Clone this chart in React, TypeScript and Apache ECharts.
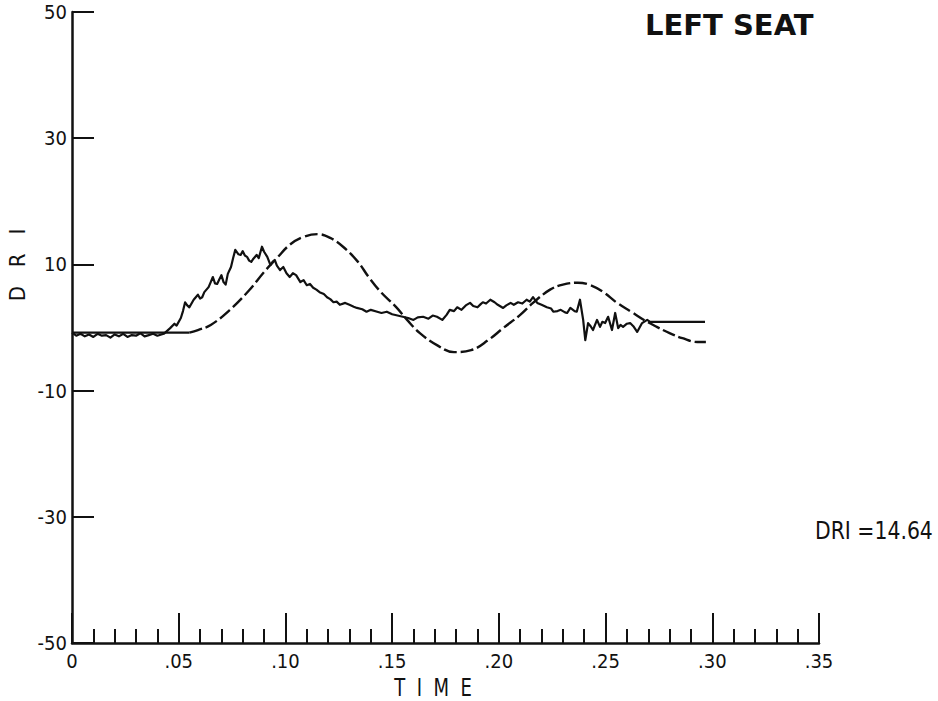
import React, { useEffect, useRef } from "react";
import * as echarts from "echarts";

// ---- data ----
const xTickLabels = ["0", ".05", ".10", ".15", ".20", ".25", ".30", ".35"];
const yTickValues = [-50, -30, -10, 10, 30, 50];

// measured DRI response (solid, noisy)
const measuredT = [
  0, 0.002, 0.004, 0.006, 0.008, 0.01, 0.012, 0.014, 0.016, 0.018, 0.02, 0.022, 0.024, 0.026, 0.028, 0.03,
  0.032, 0.034, 0.036, 0.038, 0.04, 0.043,
  0.046, 0.048, 0.049, 0.051, 0.052, 0.053, 0.054, 0.055, 0.057, 0.059, 0.06, 0.061, 0.062, 0.064, 0.065,
  0.066, 0.067, 0.068, 0.069, 0.07, 0.071, 0.072, 0.073, 0.0745, 0.0755, 0.0765, 0.078, 0.079, 0.08, 0.081,
  0.082, 0.083, 0.084, 0.085, 0.0865, 0.0875, 0.089, 0.09, 0.0915, 0.093, 0.094, 0.095, 0.096, 0.0975,
  0.099, 0.1005, 0.102, 0.1035, 0.105, 0.107, 0.1085, 0.11, 0.1115, 0.113, 0.1145, 0.116, 0.118, 0.1195,
  0.121, 0.1225, 0.124, 0.1255, 0.128, 0.13, 0.132, 0.1335, 0.136, 0.138, 0.14, 0.143, 0.145, 0.1475,
  0.15, 0.1525, 0.155, 0.1575, 0.16, 0.162, 0.1645, 0.167, 0.169, 0.171, 0.1735, 0.1755, 0.177, 0.179,
  0.1805, 0.1825, 0.1845, 0.1865, 0.188, 0.19, 0.1915, 0.1925, 0.194, 0.196, 0.198, 0.1995, 0.202, 0.2035,
  0.2055, 0.207, 0.209, 0.211, 0.213, 0.2145, 0.216, 0.218, 0.22, 0.2225, 0.2245, 0.2255, 0.2275, 0.229,
  0.231, 0.232, 0.2335, 0.2355, 0.2365, 0.238, 0.2395, 0.2405, 0.2418, 0.243, 0.2441, 0.246, 0.2474,
  0.2485, 0.2498, 0.2512, 0.253, 0.2545, 0.2559, 0.257, 0.2582, 0.26, 0.2615, 0.263, 0.2648, 0.2671,
  0.2695, 0.2709, 0.2966,
];
const measuredV = [
  -0.8, -1.3, -1.0, -1.4, -1.1, -1.5, -1.0, -1.3, -1.2, -1.6, -1.1, -1.4, -1.0, -1.5, -1.2, -1.3,
  -0.9, -1.4, -1.2, -1.0, -1.3, -1.0,
  -0.1, 0.6, 0.3, 1.5, 2.6, 4.0, 3.5, 3.2, 4.4, 5.2, 4.6, 4.8, 5.6, 6.4, 7.2,
  8.0, 7.0, 6.9, 7.6, 8.3, 7.2, 6.8, 8.5, 9.6, 11.0, 12.3, 11.6, 11.5, 12.1, 11.4,
  11.2, 10.6, 10.4, 10.9, 11.5, 11.0, 12.8, 12.0, 11.2, 9.9, 10.4, 10.7, 9.8, 9.1,
  9.6, 8.6, 8.0, 8.6, 8.3, 7.2, 7.5, 6.7, 6.9, 6.3, 6.0, 5.6, 5.3, 4.8,
  4.5, 4.0, 4.1, 3.6, 3.9, 3.6, 3.3, 3.1, 2.9, 2.5, 2.8, 2.5, 2.3, 2.5,
  2.1, 1.9, 1.7, 1.5, 1.2, 1.6, 1.7, 1.4, 1.9, 1.7, 1.2, 2.0, 2.8, 2.6,
  3.2, 2.8, 3.5, 3.9, 3.4, 3.2, 3.7, 4.0, 3.8, 4.4, 4.0, 3.6, 3.1, 3.5,
  3.9, 3.6, 4.0, 3.8, 4.4, 4.1, 4.8, 3.9, 3.6, 3.2, 3.0, 2.5, 2.6, 2.8,
  2.4, 2.3, 3.1, 2.6, 2.5, 4.4, 1.2, -2.0, 0.7, 0.2, -0.4, 1.2, 0.1,
  0.9, 0.7, 1.7, -0.4, 2.3, -0.1, 0.4, 0.1, 0.6, 0.7, 0.2, -0.7, 0.7,
  1.2, 0.9, 0.9,
];

// model DRI response (dashed, smooth)
const modelT = [
  0, 0.055, 0.059, 0.065, 0.074, 0.083, 0.09, 0.096, 0.102, 0.108, 0.115, 0.121, 0.127, 0.134, 0.139,
  0.145, 0.152, 0.157, 0.163, 0.171, 0.179, 0.187, 0.195, 0.202, 0.21, 0.216, 0.224, 0.23, 0.237, 0.243,
  0.249, 0.255, 0.262, 0.268, 0.274, 0.28, 0.286, 0.293, 0.297,
];
const modelV = [
  -0.8, -0.8, -0.4, 0.4, 2.8, 5.9, 8.8, 11.0, 13.1, 14.3, 14.8, 14.2, 12.8, 10.4, 8.0,
  5.5, 3.2, 1.2, -0.9, -2.8, -3.9, -3.6, -2.0, -0.1, 2.0, 3.9, 6.0, 6.8, 7.1, 6.7,
  5.6, 4.0, 2.5, 1.2, 0.1, -0.9, -1.7, -2.3, -2.3,
];

const titleText = "LEFT SEAT";
const driText = "DRI =14.64";
const xName = "T  I  M  E";
const yName = "D   R   I";

const zip = (a: number[], b: number[]) => a.map((t, i) => [t, b[i]]);

const NARROW = "'Liberation Sans Narrow', 'DejaVu Sans Condensed', sans-serif";
const PLOT = "'DejaVu Sans', sans-serif";
const INK = "#111111";

export default function App() {
  const ref = useRef<HTMLDivElement | null>(null);

  useEffect(() => {
    if (!ref.current) return;
    const chart = echarts.init(ref.current, null, { renderer: "svg" });
    const measured = zip(measuredT, measuredV);
    const model = zip(modelT, modelV);
    chart.setOption({
      animation: false,
      backgroundColor: "#ffffff",
      grid: { left: 72, right: 119, top: 12, bottom: 58, containLabel: false },
      xAxis: {
        type: "value",
        min: 0,
        max: 0.35,
        interval: 0.05,
        axisLine: { show: true, onZero: false, lineStyle: { color: INK, width: 2.5 } },
        axisTick: { show: true, inside: true, length: 30, lineStyle: { color: INK, width: 2 } },
        minorTick: { show: true, splitNumber: 5, length: 14, lineStyle: { color: INK, width: 2 } },
        splitLine: { show: false },
        minorSplitLine: { show: false },
        axisLabel: {
          margin: 8,
          color: INK,
          fontSize: 20,
          fontFamily: NARROW,
          formatter: (v: number) => xTickLabels[Math.round(v / 0.05)] ?? "",
        },
      },
      yAxis: {
        type: "value",
        min: -50,
        max: 50,
        interval: 20,
        axisLine: { show: true, onZero: false, lineStyle: { color: INK, width: 2.5 } },
        axisTick: { show: true, inside: true, length: 22, lineStyle: { color: INK, width: 2 } },
        splitLine: { show: false },
        axisLabel: {
          margin: 5,
          color: INK,
          fontSize: 20,
          fontFamily: NARROW,
          formatter: (v: number) => (yTickValues.includes(Math.round(v)) ? String(Math.round(v)) : ""),
        },
      },
      graphic: [
        {
          type: "text",
          x: 645,
          y: 25,
          style: {
            text: titleText, fill: INK, fontSize: 29, fontWeight: "bold", fontFamily: PLOT,
            textAlign: "left", textVerticalAlign: "middle",
          },
        },
        {
          type: "text",
          x: 815,
          y: 530,
          scaleX: 0.85,
          style: { text: driText, fill: INK, fontSize: 24, fontFamily: PLOT, textAlign: "left", textVerticalAlign: "middle" },
        },
        {
          type: "text",
          x: 433,
          y: 688,
          scaleX: 0.75,
          style: { text: xName, fill: INK, fontSize: 24, fontFamily: PLOT, textAlign: "center", textVerticalAlign: "middle" },
        },
        {
          type: "text",
          x: 18,
          y: 265,
          rotation: Math.PI / 2,
          scaleX: 0.9,
          style: { text: yName, fill: INK, fontSize: 22, fontFamily: PLOT, textAlign: "center", textVerticalAlign: "middle" },
        },
      ],
      series: [
        {
          name: "model base",
          type: "line",
          data: model.slice(0, 2),
          showSymbol: false,
          symbol: "none",
          lineStyle: { color: INK, width: 2.2 },
          silent: true,
        },
        {
          name: "model",
          type: "line",
          data: model.slice(1),
          showSymbol: false,
          symbol: "none",
          smooth: 0.4,
          lineStyle: { color: INK, width: 2.4, type: [13, 4] },
          silent: true,
        },
        {
          name: "measured",
          type: "line",
          data: measured,
          showSymbol: false,
          symbol: "none",
          lineStyle: { color: INK, width: 2.2, join: "round" },
          silent: true,
        },
      ],
    });
    return () => chart.dispose();
  }, []);

  return (
    <div
      ref={ref}
      style={{ position: "fixed", left: 0, top: 0, width: 938, height: 701, background: "#fff" }}
    />
  );
}
